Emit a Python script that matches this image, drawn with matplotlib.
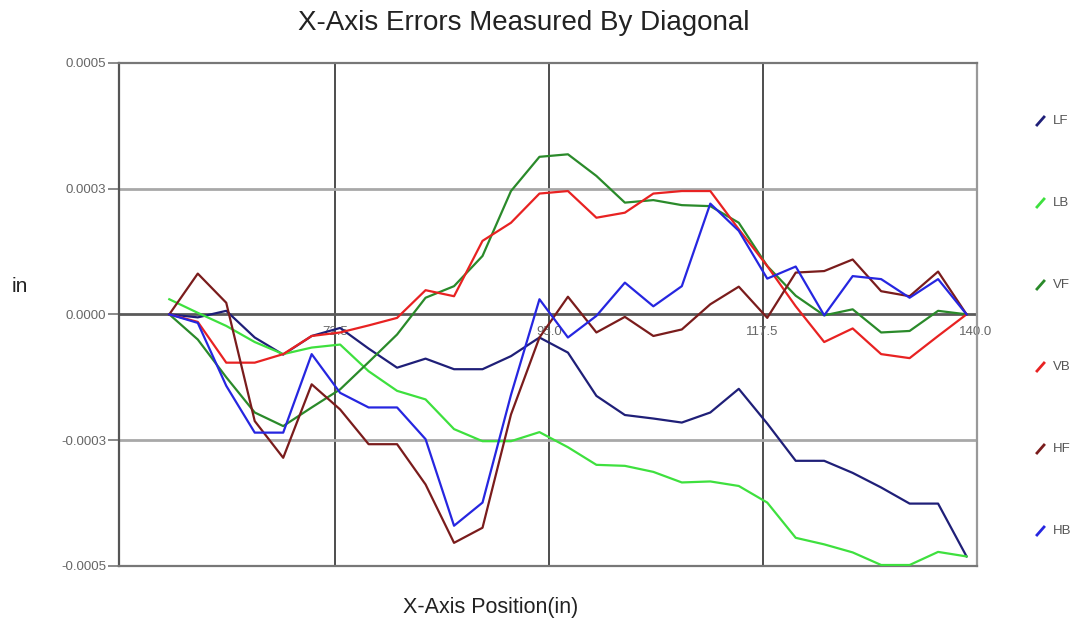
import matplotlib
matplotlib.use('Agg')
import matplotlib.pyplot as plt
from matplotlib.lines import Line2D

plt.rcParams['font.family'] = ['Liberation Sans', 'DejaVu Sans']

# x positions (in) where the diagonal was measured
x_pos = [55, 58, 61, 64, 67, 70, 73, 76, 79, 82, 85, 88, 91, 94, 97,
         100, 103, 106, 109, 112, 115, 118, 121, 124, 127, 130, 133, 136, 139]

# errors, in units of 1e-4 in
lf = [0, -0.06, 0.07, -0.46, -0.80, -0.43, -0.27, -0.68, -1.06, -0.88, -1.09, -1.09, -0.83, -0.46, -0.76,
      -1.62, -2.00, -2.07, -2.15, -1.95, -1.48, -2.17, -2.91, -2.91, -3.15, -3.44, -3.76, -3.76, -4.81]
lb = [0.30, 0.03, -0.23, -0.55, -0.79, -0.66, -0.60, -1.13, -1.52, -1.69, -2.28, -2.52, -2.52, -2.34, -2.64,
      -2.99, -3.01, -3.13, -3.34, -3.32, -3.41, -3.74, -4.44, -4.57, -4.73, -4.98, -4.98, -4.72, -4.81]
vf = [0, -0.50, -1.25, -1.95, -2.22, -1.85, -1.49, -0.95, -0.40, 0.33, 0.56, 1.16, 2.45, 3.13, 3.18,
      2.75, 2.22, 2.27, 2.17, 2.15, 1.82, 0.96, 0.37, -0.02, 0.10, -0.36, -0.33, 0.07, 0]
vb = [0, -0.15, -0.96, -0.96, -0.79, -0.43, -0.36, -0.22, -0.07, 0.48, 0.36, 1.46, 1.82, 2.40, 2.45,
      1.92, 2.02, 2.40, 2.45, 2.45, 1.69, 0.96, 0.16, -0.55, -0.28, -0.79, -0.87, -0.43, 0]
hf = [0, 0.81, 0.23, -2.12, -2.85, -1.39, -1.89, -2.58, -2.58, -3.38, -4.54, -4.24, -1.99, -0.46, 0.35,
      -0.36, -0.05, -0.43, -0.30, 0.20, 0.55, -0.07, 0.83, 0.86, 1.09, 0.46, 0.36, 0.85, 0]
hb = [0, -0.17, -1.42, -2.35, -2.35, -0.79, -1.56, -1.85, -1.85, -2.48, -4.20, -3.74, -1.60, 0.30, -0.46,
      -0.03, 0.63, 0.16, 0.56, 2.20, 1.66, 0.71, 0.95, -0.02, 0.76, 0.70, 0.33, 0.70, 0]

names = ['LF', 'LB', 'VF', 'VB', 'HF', 'HB']
series = [lf, lb, vf, vb, hf, hb]
colors = ['#1f1f78', '#3ee03e', '#2a8a2a', '#e82222', '#7a1c1c', '#2626e0']

y_ticks = [-0.0005, -0.00025, 0.0, 0.00025, 0.0005]
y_labels = ['-0.0005', '-0.0003', '0.0000', '0.0003', '0.0005']
x_grid = [72.5, 95.0, 117.5, 140.0]
x_labels = ['72.5', '95.0', '117.5', '140.0']

W, H = 1078, 622
fig = plt.figure(figsize=(W / 100, H / 100), dpi=100)
ax = fig.add_axes([119 / W, 1 - 566 / H, (977 - 119) / W, (566 - 62.7) / H])

ax.set_xlim(49.7, 140.1)
ax.set_ylim(-0.0005, 0.0005)

# grid lines, drawn by hand so the zero line can be darker
for xg in x_grid[:-1]:
    ax.axvline(xg, color='#4d4d4d', lw=1.4, zorder=1)
for yg in [-0.00025, 0.00025]:
    ax.axhline(yg, color='#a8a8a8', lw=2, zorder=1)
ax.axhline(0, color='#5a5a5a', lw=2, zorder=1)

# x labels sit inside the plot just under the zero line
for xg, lab in zip(x_grid, x_labels):
    ax.annotate(lab, (xg, 0), xytext=(0, -18), textcoords='offset pixels',
                ha='center', va='center', fontsize=9.5, color='#666666',
                zorder=2, annotation_clip=False)

for vals, c in zip(series, colors):
    ax.plot(x_pos, [v * 1e-4 for v in vals], color=c, lw=1.6, zorder=3)

ax.set_xticks([])
ax.set_yticks(y_ticks)
ax.set_yticklabels(y_labels, fontsize=9.5, color='#666666')
ax.tick_params(axis='y', length=8, width=1.2, color='#777777', pad=1)

for side, col in [('left', '#555555'), ('top', '#777777'), ('bottom', '#777777'), ('right', '#999999')]:
    ax.spines[side].set_color(col)
    ax.spines[side].set_linewidth(1.6)

fig.text(524 / W, 1 - 30 / H, 'X-Axis Errors Measured By Diagonal', ha='center', va='baseline',
         fontsize=20, color='#222222')
fig.text(491 / W, 1 - 613 / H, 'X-Axis Position(in)', ha='center', va='baseline',
         fontsize=15.5, color='#222222')
fig.text(20 / W, 1 - 287 / H, 'in', ha='center', va='center', fontsize=15, color='#222222')

# legend on the right: little slashes with the names
leg_y = [121, 203, 285, 367, 449, 531]
for ly, name, c in zip(leg_y, names, colors):
    fig.add_artist(Line2D([1037 / W, 1044 / W], [1 - (ly + 4) / H, 1 - (ly - 4) / H],
                          color=c, lw=2, transform=fig.transFigure))
    fig.text(1053 / W, 1 - ly / H, name, ha='left', va='center', fontsize=9.5, color='#555555')

fig.savefig('out.png', dpi=100, facecolor='white')
